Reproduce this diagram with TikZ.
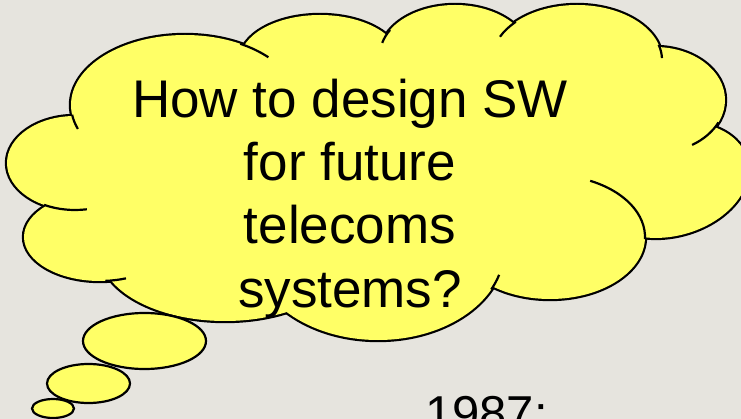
\documentclass[tikz,border=0pt]{standalone}
\usepackage{fontspec}
\setmainfont{Liberation Sans}
\definecolor{slide}{RGB}{230,228,222}
\definecolor{thought}{RGB}{255,255,102}
\tikzset{
  rim/.style={draw=black,line width=4.4pt},
  puff/.style={fill=thought},
  crease/.style={draw=black,line width=2.2pt},
  bubble/.style={draw=black,line width=2.2pt,fill=thought},
  big/.style={anchor=base,inner sep=0pt,font=\fontsize{53}{63}\selectfont},
}
% lobes: centre x/centre y/x radius/y radius/turn
\def\lobes{185/105/114/70/0, 75/163/68/47/0, 100/237/76/44/0, 225/252/125/69/0,
  378/250/126/90/0, 550/237/95/62/0, 670/180/80/56/15, 655/100/70/53/0,
  577/60/85/55/0, 455/55/75/50/0, 320/60/80/45/0}
% inner arcs: centre x/centre y/x radius/y radius/from/to
\def\creases{185/105/114/70/172/160, 185/105/114/70/-61/-43, 75/163/68/47/117/80,
  100/237/76/44/86/70, 378/250/126/90/26/16, 550/237/95/62/2/-65,
  655/100/70/53/25/58, 455/55/75/50/-166/-150, 577/60/85/55/-155/-136,
  577/60/85/55/-16/-2}
\begin{document}
\begin{tikzpicture}[x=1pt,y=-1pt]
\path[use as bounding box] (0,0) rectangle (741,419);
\clip (0,0) rectangle (741,419);
\fill[slide] (0,0) rectangle (741,419);
% cloud
\foreach \cx/\cy/\rx/\ry/\turn in \lobes
  \path[rim,rotate around={\turn:(\cx,\cy)}] (\cx,\cy) ellipse [x radius=\rx,y radius=\ry];
\foreach \cx/\cy/\rx/\ry/\turn in \lobes
  \path[puff,rotate around={\turn:(\cx,\cy)}] (\cx,\cy) ellipse [x radius=\rx,y radius=\ry];
\fill[thought] (370,175) ellipse [x radius=290,y radius=115];
\foreach \cx/\cy/\rx/\ry/\a/\b in \creases
  \draw[crease] (\cx,\cy) ++(\a:{\rx} and {\ry}) arc[start angle=\a,end angle=\b,x radius=\rx,y radius=\ry];
% bubbles
\draw[bubble] (144.5,341) ellipse [x radius=61.5,y radius=28];
\draw[bubble] (88.5,383.5) ellipse [x radius=41.5,y radius=19.5];
\draw[bubble] (53,408.5) ellipse [x radius=21,y radius=9.5];
% text
\node[big] (q1) at (350,118) {How to design SW};
\node[big] (q2) at (350,181) {for future};
\node[big] (q3) at (350,244) {telecoms};
\node[big] (q4) at (350,308) {systems?};
\node[anchor=base west,inner sep=0pt,font=\fontsize{49}{59}\selectfont] (year) at (425,430) {1987:};
\end{tikzpicture}
\end{document}
